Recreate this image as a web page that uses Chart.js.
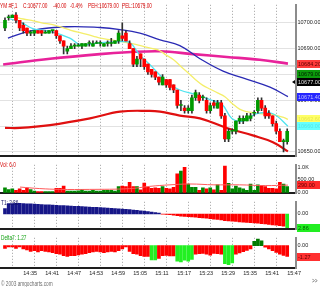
<!DOCTYPE html>
<html><head><meta charset="utf-8">
<script src="https://cdn.jsdelivr.net/npm/chart.js@4.4.1/dist/chart.umd.min.js"></script>
<style>
html,body{margin:0;padding:0;background:#fff;}
body{width:320px;height:287px;position:relative;overflow:hidden;}
.p{position:absolute;left:0;width:320px;}
.t{position:absolute;font-family:"Liberation Sans",Arial,sans-serif;font-size:6.4px;line-height:7px;white-space:nowrap;transform-origin:0 0;transform:scaleX(0.74);}
</style></head><body>
<div class="p" style="top:0;height:161px"><canvas id="cMain"></canvas></div>
<div class="p" style="top:160px;height:38px"><canvas id="cVol"></canvas></div>
<div class="p" style="top:197px;height:37px"><canvas id="cT1"></canvas></div>
<div class="p" style="top:233px;height:46px"><canvas id="cDelta"></canvas></div>
<div id="texts"></div>
<script>
// ---------------- data ----------------
const symbol = 'YM #F,1';
const lastClose = 10677.00, netChange = -40.00, pctChange = -0.4, peh = 10679.00, pel = 10679.00;
const refLevel = 10683.3;
const timeLabels = ['14:35','14:41','14:47','14:53','14:59','15:05','15:11','15:17','15:23','15:29','15:35','15:41','15:47'];
const timeTickIndex = [5,11,17,23,29,35,41,47,53,59,65,71,77]; // minute bars from 14:30
const priceTicks = [10650,10660,10670,10680,10690,10700];

const open  = [10698,10702,10702,10703,10701,10699,10698,10696,10696,10697,10697,10696,10696,10697,10697,10695,10693,10689,10690,10691,10691,10691,10691,10692,10691,10692,10692,10691,10692,10692,10692,10693,10695,10696,10692,10690,10684,10688,10686,10684,10682,10681,10679,10676,10678,10678,10676,10674,10668,10667,10666,10666,10671,10672,10671,10670,10666,10669,10667,10669,10664,10655,10658,10658,10662,10662,10662,10663,10665,10666,10670,10667,10665,10664,10661,10658,10654,10654];
const high  = [10702,10703,10703,10704,10701,10700,10698,10697,10697,10697,10697,10697,10697,10697,10697,10695,10693,10691,10692,10692,10692,10692,10692,10693,10693,10693,10693,10692,10693,10694,10693,10697,10700,10697,10693,10690,10687,10688,10686,10684,10682,10681,10679,10680,10678,10678,10676,10674,10670,10668,10668,10672,10674,10673,10672,10671,10669,10670,10670,10670,10665,10659,10659,10662,10664,10664,10665,10665,10666,10671,10671,10668,10666,10664,10662,10659,10655,10659];
const low   = [10697,10701,10702,10700,10697,10696,10695,10695,10695,10696,10695,10696,10696,10696,10694,10692,10688,10688,10690,10690,10691,10690,10691,10691,10691,10692,10691,10691,10691,10691,10692,10692,10693,10693,10690,10683,10683,10683,10682,10680,10679,10678,10676,10676,10675,10674,10673,10667,10666,10665,10665,10665,10670,10669,10670,10665,10665,10667,10667,10663,10654,10654,10657,10657,10661,10661,10662,10662,10664,10665,10666,10663,10663,10660,10657,10654,10650,10653];
const close = [10701,10702,10703,10701,10698,10697,10696,10696,10697,10696,10696,10696,10697,10697,10695,10693,10691,10690,10691,10691,10691,10692,10692,10692,10692,10692,10692,10692,10692,10692,10693,10696,10694,10693,10690,10684,10686,10686,10683,10681,10680,10679,10677,10679,10676,10675,10674,10668,10668,10666,10667,10671,10673,10670,10671,10666,10668,10668,10669,10664,10655,10658,10658,10662,10663,10663,10664,10664,10665,10670,10667,10664,10664,10661,10658,10654,10654,10658];

// indicator lines, read at sample bar positions
const yellowX  = [2.7,5,8,10,13,15,18,21,24,26,29,32,35,37,40,42,44,46,48,50,52,54,56,58,60,62,64,66,68,70,72,74,76,77.2];
const yellowY  = [10702.2,10701.5,10700.7,10700.0,10699.3,10698.5,10697.1,10696.0,10694.9,10694.1,10693.4,10692.7,10691.9,10691.2,10690.1,10689.4,10687.5,10685.7,10683.1,10680.6,10678.0,10675.8,10674.3,10672.9,10671.4,10668.8,10666.6,10665.6,10665.2,10664.8,10664.8,10664.2,10663.4,10662.6];
const cyanX    = [1.4,4.1,7.6,12.3,17.7,20.5,25.9,31.4,34.1,36.8,39.5,41.7,45,47.7,52.4,55.9,59.2,61.9,64.9,68.7,73.1,77.2];
const cyanY    = [10701.5,10700.4,10697.8,10696.7,10694.1,10691.6,10692.3,10692.7,10692.3,10687.5,10683.9,10680.6,10676.2,10674.0,10672.1,10670.3,10668.5,10663.0,10661.9,10664.8,10664.8,10660.0];
const blueX    = [0.8,7.6,16.9,25.9,31.4,36.8,42.3,47.7,53.2,59.5,64.9,72.3,77.2];
const blueY    = [10694.1,10697.1,10698.5,10698.2,10697.4,10696.0,10693.4,10691.2,10686.1,10681.3,10678.7,10675.1,10671.4];
const magentaX = [-0.5,12.3,25.9,33.3,42.3,51.3,60.5,69.5,77.2];
const magentaY = [10683.9,10686.1,10687.9,10688.6,10689.0,10687.9,10686.8,10685.7,10684.2];
const redX     = [0,4.1,12.3,23.2,31.4,39.5,42.3,47.7,53.2,60.5,67.6,73.1,77.2];
const redY     = [10659.3,10659.3,10660.4,10663.0,10665.6,10665.9,10665.6,10664.1,10663.0,10659.3,10656.4,10653.8,10650.2];

const volume = [180,110,140,80,140,80,170,110,50,30,30,30,30,30,160,160,250,50,50,50,60,110,50,50,80,50,50,80,80,80,50,230,250,230,400,230,230,100,370,210,160,180,160,230,160,140,200,736,840,990,333,200,200,80,180,140,180,100,300,80,1040,360,140,250,180,140,80,333,80,300,280,230,160,160,140,400,333,230];
const volAvgX = [4.1,9.5,15,23,34,39.5,45,50.5,57,64,71,77.2];
const volAvgY = [212,152,121,120,150,240,300,333,300,300,270,290];
const volTicks = [0,500,1000];

const t1 = [1.15,2.15,2.18,2.2,2.2,2.18,2.14,2.1,2.05,2.0,1.97,1.93,1.9,1.86,1.82,1.78,1.75,1.7,1.66,1.62,1.58,1.54,1.5,1.45,1.41,1.37,1.32,1.27,1.22,1.18,1.13,1.08,1.02,0.96,0.9,0.83,0.76,0.68,0.6,0.5,0.4,0.3,0.18,-0.05,-0.1,-0.15,-0.25,-0.35,-0.45,-0.52,-0.58,-0.62,-0.68,-0.75,-0.82,-0.9,-0.98,-1.06,-1.14,-1.22,-1.38,-1.45,-1.52,-1.58,-1.64,-1.7,-1.76,-1.82,-1.88,-1.94,-2.0,-2.08,-2.16,-2.26,-2.36,-2.46,-2.54,-2.86];
const t1Value = 2.86;

const delta = [-0.33,-0.17,-0.17,-0.33,-0.17,-0.4,-0.5,-0.67,-0.6,-0.73,-0.6,-0.67,-0.73,-0.83,-0.93,-1.0,-1.17,-1.27,-1.17,-1.17,-1.07,-1.0,-0.93,-0.83,-0.73,-0.67,-0.73,-0.83,-0.73,-0.67,-0.73,-0.6,-0.4,-0.17,-0.67,-0.93,-1.0,-1.17,-1.27,-1.27,-1.67,-1.67,-1.5,-1.17,-1.15,-1.2,-1.2,-1.8,-1.9,-1.7,-1.8,-1.6,-1.0,-0.95,-0.9,-1.0,-1.1,-0.9,-0.95,-1.0,-2.1,-2.2,-2.0,-1.0,-0.85,-0.7,-0.55,-0.4,0.5,0.75,0.55,-0.2,-0.4,-0.6,-0.8,-1.0,-1.15,-1.27];
const deltaTurnBars = [40,41,47,48,49,50,51,60,61,62];
const delta7Value = 1.27;

// ---------------- rendering ----------------
const FONT = '"Liberation Sans", Arial, sans-serif';
Chart.defaults.font.family = FONT;
Chart.defaults.animation = false;
Chart.defaults.events = [];
Chart.defaults.plugins.legend.display = false;
Chart.defaults.plugins.tooltip.enabled = false;

const idx = open.map((_, i) => i);
const up = idx.map(i => close[i] >= open[i]);
const XMIN = -1.36, XMAX = 79.4;
const GREEN = '#009a00', RED = '#ff0000';

function xScale(showLabels) {
  return {
    type: 'linear', min: XMIN, max: XMAX, offset: false, position: 'bottom',
    afterBuildTicks: s => { s.ticks = timeTickIndex.map(v => ({ value: v })); },
    afterFit: s => { s.height = showLabels ? 11 : 0; },
    grid: { color: '#a0a0a0', lineWidth: 1, drawTicks: false },
    border: { display: true, color: '#1e1e1e', width: 2, dash: [1, 2] },
    ticks: { display: showLabels, autoSkip: false, maxRotation: 0, align: 'start', padding: 2, color: '#222',
      font: { size: 5.5 },
      callback: v => { const k = timeTickIndex.indexOf(v); return k >= 0 ? timeLabels[k] : ''; } }
  };
}
function yScale(min, max, ticks, labelFn, showGrid) {
  return {
    type: 'linear', position: 'right', min, max,
    afterBuildTicks: s => { s.ticks = ticks.map(v => ({ value: v })); },
    afterFit: s => { s.width = 24; },
    grid: { display: showGrid, color: '#e2e2e2', lineWidth: 1, drawTicks: false },
    border: { display: true, color: '#8c8c8c', width: 2 },
    ticks: { padding: 1.5, color: '#222', font: { size: 5.5 }, autoSkip: false, callback: labelFn }
  };
}
const boxPlugin = {
  id: 'boxes',
  afterDraw(chart, args, opts) {
    const ctx = chart.ctx, ys = chart.scales.y;
    (opts.items || []).forEach(b => {
      const y = Math.round(ys.getPixelForValue(b.value));
      ctx.save();
      ctx.fillStyle = b.bg; ctx.fillRect(297, y - 4, 23, 8);
      ctx.fillStyle = b.fg; ctx.font = '5.5px ' + FONT; ctx.textBaseline = 'middle';
      ctx.fillText(b.text, 298, y + 0.5);
      if (b.arrow) { ctx.fillStyle = '#000'; ctx.beginPath(); ctx.moveTo(292, y); ctx.lineTo(295, y - 2); ctx.lineTo(295, y + 2); ctx.fill(); }
      ctx.restore();
    });
  }
};
const pts = (xs, ys) => xs.map((x, k) => ({ x, y: ys[k] }));
const line = (xs, ys, color, w, order) => ({ type: 'line', data: pts(xs, ys), borderColor: color, borderWidth: w,
  pointRadius: 0, tension: 0.4, fill: false, order });
const last = a => a[a.length - 1];

// main price panel
new Chart(document.getElementById('cMain'), {
  type: 'bar',
  data: { datasets: [
    { type: 'bar', data: idx.map(i => ({ x: i, y: [open[i], close[i]] })), backgroundColor: idx.map(i => up[i] ? GREEN : RED),
      borderWidth: 0, barThickness: 3, minBarLength: 1, grouped: false, order: 1 },
    { type: 'bar', data: idx.map(i => ({ x: i, y: [low[i], high[i]] })), backgroundColor: '#303030',
      borderWidth: 0, barThickness: 1, grouped: false, order: 2 },
    line(cyanX, cyanY, '#4fe3ef', 1.3, 3),
    line(yellowX, yellowY, '#f4ee6a', 1.3, 4),
    line(blueX, blueY, '#2a2ab4', 1.3, 5),
    line(magentaX, magentaY, '#e8229a', 2.6, 6),
    line(redX, redY, '#e01010', 2.2, 7),
    { type: 'line', data: [{ x: XMIN, y: refLevel }, { x: XMAX, y: refLevel }], borderColor: '#b4b4b4', borderWidth: 1,
      pointRadius: 0, order: 9 }
  ] },
  options: {
    responsive: true, maintainAspectRatio: false, layout: { padding: { bottom: 1 } },
    scales: { x: xScale(false), y: yScale(10648.35, 10707, priceTicks, v => v.toFixed(2), true) },
    plugins: { boxes: { items: [
      { value: last(magentaY), bg: '#ff3c3c', fg: '#600000', text: last(magentaY).toFixed(2) },
      { value: 10680, bg: '#0c9a0c', fg: '#002000', text: peh.toFixed(2) },
      { value: lastClose, bg: '#000000', fg: '#e0e0e0', text: lastClose.toFixed(2), arrow: true },
      { value: last(blueY), bg: '#2626ff', fg: '#c0c0ff', text: last(blueY).toFixed(2) },
      { value: last(yellowY), bg: '#ffff66', fg: '#e6e650', text: last(yellowY).toFixed(2) },
      { value: last(cyanY), bg: '#66ffff', fg: '#50e6e6', text: last(cyanY).toFixed(2) }
    ] } }
  },
  plugins: [boxPlugin]
});

// volume panel
new Chart(document.getElementById('cVol'), {
  type: 'bar',
  data: { datasets: [
    line(volAvgX, volAvgY, '#ff5a5a', 1, 0),
    { type: 'bar', data: idx.map(i => ({ x: i, y: volume[i] })), backgroundColor: idx.map(i => up[i] ? '#008800' : RED),
      borderWidth: 0, barThickness: 3, grouped: false, order: 1 }
  ] },
  options: {
    responsive: true, maintainAspectRatio: false, layout: { padding: { bottom: 1 } },
    scales: { x: xScale(false), y: yScale(-30.3, 1090.9, volTicks, v => v >= 1000 ? (v / 1000).toFixed(1) + 'K' : v.toFixed(2), false) },
    plugins: { boxes: { items: [ { value: last(volAvgY), bg: '#ff2a2a', fg: '#600000', text: last(volAvgY).toFixed(2) } ] } }
  },
  plugins: [boxPlugin]
});

// T1 panel
new Chart(document.getElementById('cT1'), {
  type: 'bar',
  data: { datasets: [
    { type: 'bar', data: idx.map(i => ({ x: i, y: t1[i] })),
      backgroundColor: idx.map(i => i === idx.length - 1 ? '#22ee22' : (t1[i] >= 0 ? '#161688' : RED)),
      borderWidth: 0, barThickness: 3, grouped: false }
  ] },
  options: {
    responsive: true, maintainAspectRatio: false, layout: { padding: { bottom: 1 } },
    scales: { x: xScale(false), y: yScale(-3.18, 2.544, [0], v => v.toFixed(2), false) },
    plugins: { boxes: { items: [ { value: last(t1), bg: '#22ee22', fg: '#006000', text: t1Value.toFixed(2) } ] } }
  },
  plugins: [boxPlugin]
});

// Delta panel
new Chart(document.getElementById('cDelta'), {
  type: 'bar',
  data: { datasets: [
    { type: 'bar', data: idx.map(i => ({ x: i, y: delta[i] })),
      backgroundColor: idx.map(i => delta[i] >= 0 ? '#007a00' : (deltaTurnBars.includes(i) ? '#22f022' : RED)),
      borderWidth: 0, barThickness: 3, grouped: false }
  ] },
  options: {
    responsive: true, maintainAspectRatio: false,
    scales: { x: xScale(true), y: yScale(-2.6, 0.9, [0], v => v.toFixed(2), false) },
    plugins: { boxes: { items: [ { value: last(delta), bg: '#ff3030', fg: '#600000', text: last(delta).toFixed(2) } ] } }
  },
  plugins: [boxPlugin]
});

// text labels
const texts = [
  [0, 2, '#d40000', symbol],
  [23, 2, '#d40000', 'C:' + lastClose.toFixed(2)],
  [53, 2, '#d40000', netChange.toFixed(2)],
  [70, 2, '#d40000', pctChange.toFixed(1) + '%'],
  [88, 2, '#d40000', 'PEH:' + peh.toFixed(2)],
  [122, 2, '#d40000', 'PEL:' + pel.toFixed(2)],
  [0, 161, '#d40000', 'Vol: 6.0'],
  [1, 199, '#101060', 'T1: ' + t1Value.toFixed(2)],
  [1, 234, '#10a010', 'Delta7: ' + delta7Value.toFixed(2)],
  [1, 280, '#707070', '\u00a9 2003 amgocharts.com'],
  [312, 277, '#505050', '>>']
];
const box = document.getElementById('texts');
texts.forEach(([x, y, c, s]) => {
  const d = document.createElement('div');
  d.className = 't'; d.style.left = x + 'px'; d.style.top = y + 'px'; d.style.color = c; d.textContent = s;
  box.appendChild(d);
});
</script>
</body></html>
